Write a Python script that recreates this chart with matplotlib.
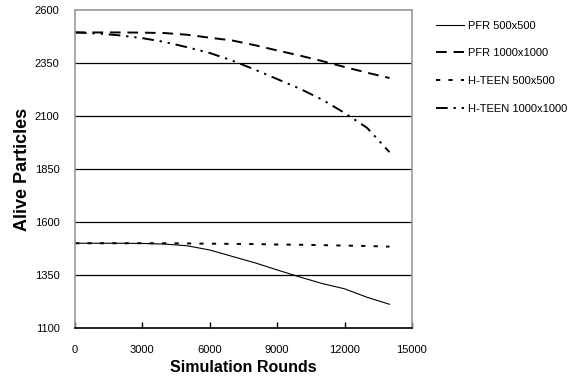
import matplotlib
matplotlib.use('Agg')
import matplotlib.pyplot as plt

plt.rcParams['font.family'] = ['Liberation Sans', 'DejaVu Sans']

# 데이터
rounds = [0, 1000, 2000, 3000, 4000, 5000, 6000, 7000, 8000, 9000, 10000, 11000, 12000, 13000, 14000]
pfr_500 = [1500, 1500, 1500, 1499, 1496, 1488, 1468, 1438, 1408, 1374, 1341, 1310, 1285, 1245, 1212]
pfr_1000 = [2495, 2495, 2495, 2494, 2492, 2484, 2470, 2457, 2435, 2410, 2386, 2360, 2332, 2305, 2280]
hteen_500 = [1500, 1500, 1500, 1500, 1500, 1499, 1498, 1497, 1496, 1494, 1493, 1491, 1489, 1487, 1484]
hteen_1000 = [2495, 2490, 2481, 2468, 2450, 2425, 2398, 2362, 2320, 2275, 2230, 2178, 2115, 2045, 1930]

xticks = [0, 3000, 6000, 9000, 12000, 15000]
yticks = [1100, 1350, 1600, 1850, 2100, 2350, 2600]

fig = plt.figure(figsize=(5.81, 3.77), dpi=100)
ax = fig.add_axes([0.129, 0.130, 0.580, 0.843])

# 가로 격자선
for v in yticks[1:-1]:
    ax.axhline(v, color='black', lw=0.9, zorder=1)

l1, = ax.plot(rounds, pfr_500, color='black', lw=0.8, label='PFR 500x500')
l2, = ax.plot(rounds, pfr_1000, color='black', lw=1.4, dashes=(5.5, 3.5), label='PFR 1000x1000')
l3, = ax.plot(rounds, hteen_500, color='black', lw=1.4, dashes=(2.2, 4.2), label='H-TEEN 500x500')
l4, = ax.plot(rounds, hteen_1000, color='black', lw=1.4, dashes=(6, 3, 1.2, 3, 1.2, 3), label='H-TEEN 1000x1000')

ax.set_xlim(0, 15000)
ax.set_ylim(1100, 2600)
ax.set_xticks(xticks)
ax.set_yticks(yticks)
ax.tick_params(axis='x', direction='in', length=4, width=1, labelsize=8, pad=12, color='black')
ax.tick_params(axis='y', length=0, labelsize=8, pad=11)

for s in ['left', 'right', 'top']:
    ax.spines[s].set_color('#999999')
    ax.spines[s].set_linewidth(1.2)
ax.spines['bottom'].set_color('black')
ax.spines['bottom'].set_linewidth(1.2)

ax.set_xlabel('Simulation Rounds', fontsize=11.5, fontweight='bold', labelpad=4)
ax.set_ylabel('Alive Particles', fontsize=13, fontweight='bold', labelpad=3)

fig.legend(handles=[l1, l2, l3, l4], loc='upper left', bbox_to_anchor=(0.733, 0.972),
           frameon=False, fontsize=8, handlelength=2.5, handletextpad=0.4, labelspacing=1.6)

plt.savefig('out.png', dpi=100)
